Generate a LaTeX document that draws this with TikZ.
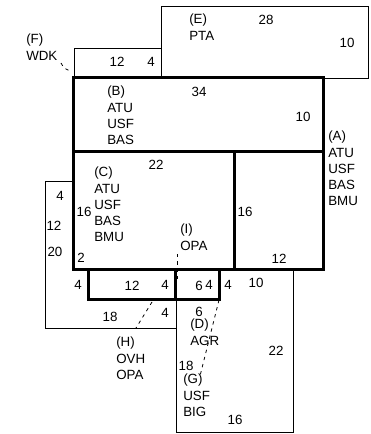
\documentclass[tikz,border=0pt]{standalone}
\usepackage{fontspec}
\setmainfont{Liberation Sans}
\usetikzlibrary{positioning}

\tikzset{
  thinwall/.style={line width=0.75pt},
  thickwall/.style={line width=2.25pt},
  dim/.style={inner sep=0pt},
  room/.style={inner sep=0pt, anchor=north west, align=left},
  leader/.style={line width=0.6pt, dash pattern=on 2.5pt off 3pt}
}

\begin{document}
\begin{tikzpicture}[x=0.75pt,y=-0.75pt,font=\fontsize{10}{12.2}\selectfont]
  \useasboundingbox (0,0) rectangle (370,434);

  % thin outlines
  \draw[thinwall] (161,79) rectangle (368,7);
  \draw[thinwall] (74,79) -- (74,49) -- (161,49);
  \draw[thinwall] (73,182) -- (45,182) -- (45,328) -- (176,328);
  \draw[thinwall] (176,299) -- (176,432) -- (293,432) -- (293,269);

  % thick outlines
  \draw[thickwall] (73,78) rectangle (323,269);
  \draw[thickwall] (73,152) -- (323,152);
  \draw[thickwall] (234,152) -- (234,269);
  \draw[thickwall] (88,269) rectangle (219,299);
  \draw[thickwall] (175,269) -- (175,299);

  % room labels
  \node[room] (roomE) at (189,14) {(E)\\PTA};
  \node[room] (roomF) at (26,34) {(F)\\WDK};
  \node[room] (roomB) at (107,86) {(B)\\ATU\\USF\\BAS};
  \node[room] (roomA) at (328,131) {(A)\\ATU\\USF\\BAS\\BMU};
  \node[room] (roomC) at (94,167) {(C)\\ATU\\USF\\BAS\\BMU};
  \node[room] (roomI) at (180,224) {(I)\\OPA};
  \node[room] (roomH) at (116,337) {(H)\\OVH\\OPA};
  \node[room] (roomD) at (190,319) {(D)\\AGR};
  \node[room] (roomG) at (183,374) {(G)\\USF\\BIG};

  % dimensions
  \node[dim] (dE1) at (266,20) {28};
  \node[dim] (dE2) at (347,43) {10};
  \node[dim] (dF1) at (117,62) {12};
  \node[dim] (dF2) at (151,62) {4};
  \node[dim] (dB1) at (199,92) {34};
  \node[dim] (dB2) at (303,117) {10};
  \node[dim] (dC1) at (156,165) {22};
  \node[dim] (dC2) at (84,212) {16};
  \node[dim] (dC3) at (81,258) {2};
  \node[dim] (dA1) at (245,212) {16};
  \node[dim] (dA2) at (279,259) {12};
  \node[dim] (dH1) at (60,196) {4};
  \node[dim] (dH2) at (54,226) {12};
  \node[dim] (dH3) at (55,252) {20};
  \node[dim] (dR1) at (78,285) {4};
  \node[dim] (dR2) at (132,286) {12};
  \node[dim] (dR3) at (165,285) {4};
  \node[dim] (dR4) at (199,286) {6};
  \node[dim] (dR5) at (209,285) {4};
  \node[dim] (dR6) at (228,285) {4};
  \node[dim] (dR7) at (256,283) {10};
  \node[dim] (dH4) at (110,317) {18};
  \node[dim] (dH5) at (165,313) {4};
  \node[dim] (dD1) at (199,312) {6};
  \node[dim] (dD2) at (276,351) {22};
  \node[dim] (dG1) at (186,366) {18};
  \node[dim] (dG2) at (235,420) {16};

  % leaders
  \coordinate (pF) at (61,63);
  \coordinate (qF) at (72,71);
  \coordinate (pI) at (177,254);
  \coordinate (qI) at (177,281);
  \coordinate (pH) at (152,302);
  \coordinate (qH) at (136,328);
  \coordinate (pG) at (219,300);
  \coordinate (qG) at (200,376);
  \draw[leader] (pF) to[bend right=30] (qF);
  \draw[leader] (pI) -- (qI);
  \draw[leader] (pH) -- (qH);
  \draw[leader] (pG) -- (qG);
\end{tikzpicture}
\end{document}
